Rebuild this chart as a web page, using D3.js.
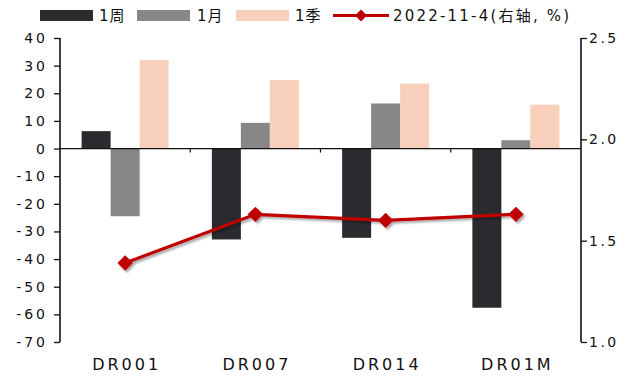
<!DOCTYPE html>
<html>
<head>
<meta charset="utf-8">
<script src="https://cdn.jsdelivr.net/npm/d3@7"></script>
<style>
  html, body { margin: 0; padding: 0; background: #fff; }
  svg { display: block; }
  text { font-family: "DejaVu Sans", "Noto Sans CJK SC", sans-serif; fill: #111; }
</style>
</head>
<body>
<svg id="chart" width="635" height="378"></svg>
<script>
// Tenors on the category axis
const categories = ["DR001", "DR007", "DR014", "DR01M"];
// Change over the period, bp (left axis)
const weekChange = [6.3, -32.9, -32.3, -57.6];
const monthChange = [-24.5, 9.3, 16.3, 3.0];
const quarterChange = [32.0, 24.8, 23.5, 15.9];
// Rate level on 2022-11-4, % (right axis)
const rateLevel = [1.39, 1.63, 1.60, 1.63];

const leftTicks = [40, 30, 20, 10, 0, -10, -20, -30, -40, -50, -60, -70];
const rightTicks = [2.5, 2.0, 1.5, 1.0];

const seriesNames = ["1周", "1月", "1季"];
const lineName = "2022-11-4(右轴, %)";
const colors = ["#2b2a2f", "#878787", "#f8cfba"];
const lineColor = "#c00000";

const svg = d3.select("#chart");
const plot = { left: 60, right: 581, top: 38, bottom: 342 };

const defs = svg.append("defs");
const shadow = defs.append("filter").attr("id", "shadow")
  .attr("x", "-20%").attr("y", "-20%").attr("width", "140%").attr("height", "160%");
shadow.append("feDropShadow").attr("dx", 2).attr("dy", 2).attr("stdDeviation", 1.2)
  .attr("flood-color", "#000").attr("flood-opacity", 0.35);

const x = d3.scaleBand().domain(categories).range([plot.left, plot.right]);
const inner = d3.scaleBand().domain(seriesNames).range([0, 87]);
const yL = d3.scaleLinear().domain([-70, 40]).range([plot.bottom, plot.top]);
const yR = d3.scaleLinear().domain([1.0, 2.5]).range([plot.bottom, plot.top]);

const series = [weekChange, monthChange, quarterChange];

// Bars
series.forEach((vals, si) => {
  svg.append("g").selectAll("rect").data(vals).join("rect")
    .attr("x", (d, i) => x(categories[i]) + x.bandwidth() / 2 - 43.5 + inner(seriesNames[si]))
    .attr("width", inner.bandwidth())
    .attr("y", d => Math.min(yL(d), yL(0)))
    .attr("height", d => Math.abs(yL(d) - yL(0)))
    .attr("fill", colors[si]);
});

// Category axis on the zero line
const xAxis = svg.append("g").attr("transform", `translate(0,${yL(0)})`);
xAxis.append("line").attr("x1", plot.left).attr("x2", plot.right)
  .attr("stroke", "#111").attr("stroke-width", 1.3);
xAxis.selectAll("line.tk").data(categories.slice(1)).join("line").attr("class", "tk")
  .attr("x1", d => x(d)).attr("x2", d => x(d)).attr("y1", 0).attr("y2", 4)
  .attr("stroke", "#111").attr("stroke-width", 1.2);

svg.append("g").selectAll("text").data(categories).join("text")
  .attr("x", d => x(d) + x.bandwidth() / 2 + 1.5)
  .attr("y", 370)
  .attr("text-anchor", "middle")
  .attr("font-size", 16)
  .attr("letter-spacing", 3)
  .text(d => d);

// Left axis
const gl = svg.append("g").attr("transform", `translate(${plot.left},0)`)
  .call(d3.axisLeft(yL).tickValues(leftTicks).tickSize(6).tickPadding(9).tickFormat(d3.format("d")));
gl.select(".domain").attr("stroke", "#111").attr("stroke-width", 1.6).attr("d", `M0,${plot.top}V${plot.bottom}`);
gl.selectAll(".tick line").attr("stroke", "#111").attr("stroke-width", 1.3);
gl.selectAll(".tick text").attr("font-size", 14).attr("letter-spacing", 3)
  .attr("font-family", "DejaVu Sans").attr("fill", "#111").attr("dx", 3)
  .text(d => (d < 0 ? "-" + Math.abs(d) : d));

// Right axis
const gr = svg.append("g").attr("transform", `translate(${plot.right},0)`)
  .call(d3.axisRight(yR).tickValues(rightTicks).tickSize(6).tickPadding(2).tickFormat(d3.format(".1f")));
gr.select(".domain").attr("stroke", "#111").attr("stroke-width", 1.6).attr("d", `M0,${plot.top}V${plot.bottom}`);
gr.selectAll(".tick line").attr("stroke", "#111").attr("stroke-width", 1.3);
gr.selectAll(".tick text").attr("font-size", 14).attr("letter-spacing", 2.5)
  .attr("font-family", "DejaVu Sans").attr("fill", "#111");

// Rate line with diamond markers
const cx = (d, i) => x(categories[i]) + x.bandwidth() / 2;
const lineG = svg.append("g").attr("filter", "url(#shadow)");
lineG.append("path").datum(rateLevel)
  .attr("d", d3.line().x(cx).y(d => yR(d)))
  .attr("fill", "none").attr("stroke", lineColor).attr("stroke-width", 3.2);
lineG.selectAll("path.mk").data(rateLevel).join("path").attr("class", "mk")
  .attr("transform", (d, i) => `translate(${cx(d, i)},${yR(d)})`)
  .attr("d", d3.symbol(d3.symbolDiamond2, 150))
  .attr("fill", lineColor);

// Legend
const legend = svg.append("g");
const legendItems = [
  { rx: 40, tx: 99 },
  { rx: 137, tx: 197 },
  { rx: 236, tx: 295 }
];
legendItems.forEach((it, i) => {
  legend.append("rect").attr("x", it.rx).attr("y", 10).attr("width", 53).attr("height", 11)
    .attr("fill", colors[i]);
  legend.append("text").attr("x", it.tx).attr("y", 21).attr("font-size", 15)
    .attr("letter-spacing", 1).text(seriesNames[i]);
});
legend.append("line").attr("x1", 333).attr("x2", 389).attr("y1", 15.5).attr("y2", 15.5)
  .attr("stroke", lineColor).attr("stroke-width", 3.2);
legend.append("path").attr("transform", "translate(361,15.5)")
  .attr("d", d3.symbol(d3.symbolDiamond2, 90)).attr("fill", lineColor);
legend.append("text").attr("x", 393).attr("y", 21).attr("font-size", 15)
  .attr("letter-spacing", 2.2).text(lineName);
</script>
</body>
</html>
